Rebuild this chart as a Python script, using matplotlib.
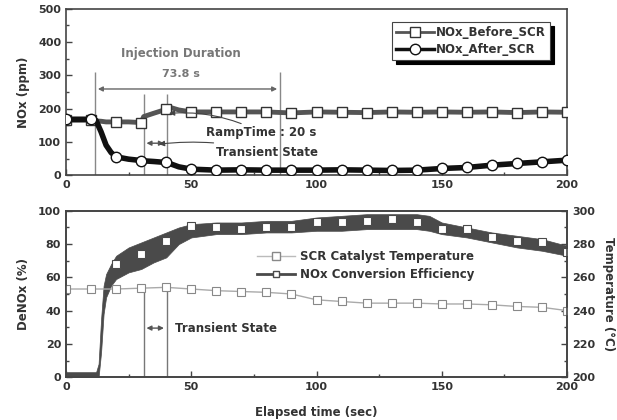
import matplotlib
matplotlib.use("Agg")
import matplotlib.pyplot as plt
from matplotlib.lines import Line2D
from matplotlib.ticker import MultipleLocator

# ---- top panel: NOx before / after SCR (ppm) ----
t_nox = [0, 10, 12, 14, 16, 18, 20, 25, 30, 31, 35, 40, 41, 45, 50, 60, 70, 80, 90, 100,
         110, 120, 130, 140, 150, 160, 170, 180, 190, 200]
nox_before = [165, 165, 163, 162, 160, 160, 160, 160, 158, 176, 186, 198, 205, 196, 190, 190, 190, 190, 187, 190,
              189, 188, 190, 189, 190, 189, 190, 188, 190, 189]
nox_after = [168, 168, 164, 130, 90, 68, 55, 48, 44, 43, 41, 38, 36, 25, 18, 15, 16, 15, 15, 15,
             16, 15, 14, 15, 20, 23, 30, 35, 40, 45]

# ---- bottom panel: DeNOx band (%) and catalyst temperature (degC) ----
t_denox = [0, 12, 13, 14, 15, 16, 18, 20, 25, 30, 35, 40, 45, 50, 60, 70, 80, 90, 100,
           110, 120, 130, 140, 145, 150, 160, 170, 180, 190, 200]
denox_low = [0, 0, 0, 15, 38, 48, 55, 59, 63, 65, 69, 72, 80, 84, 86, 86, 87, 87, 88,
             88, 89, 89, 89, 88, 86, 84, 81, 78, 76, 73]
denox_high = [3, 3, 8, 35, 55, 62, 68, 73, 78, 81, 84, 87, 90, 92, 93, 93, 94, 94, 96,
              97, 98, 98, 98, 97, 93, 90, 87, 85, 83, 79]
t_denox_mark = [20, 30, 40, 50, 60, 70, 80, 90, 100, 110, 120, 130, 140, 150, 160, 170, 180, 190, 200]
denox_mark = [68, 74, 82, 91, 90, 89, 90, 90, 93, 93, 94, 95, 93, 89, 89, 84, 82, 81, 75]

t_temp = [0, 10, 20, 30, 40, 50, 60, 70, 80, 90, 100, 110, 120, 130, 140, 150, 160, 170, 180, 190, 200]
temp = [253, 253, 253, 253.5, 254, 253, 252, 251.5, 251, 250, 246.5, 245.5, 244.5, 244.5, 244.5,
        244, 244, 243.5, 242.5, 242, 240]

# events (s)
t_inj_start = 11.6
t_inj_end = 85.4
t_trans_start = 31
t_trans_end = 40.2

TXT = "#333333"
plt.rcParams["font.family"] = "DejaVu Sans"
plt.rcParams["font.weight"] = "bold"
plt.rcParams["font.size"] = 8
plt.rcParams["text.color"] = TXT
plt.rcParams["axes.labelcolor"] = TXT
plt.rcParams["axes.labelweight"] = "bold"
plt.rcParams["xtick.color"] = TXT
plt.rcParams["ytick.color"] = TXT

fig = plt.figure(figsize=(6.17, 4.2), dpi=100)
ax1 = fig.add_axes([0.107, 0.583, 0.812, 0.396])
ax2 = fig.add_axes([0.107, 0.102, 0.812, 0.396])

marks = [i for i, t in enumerate(t_nox) if t % 10 == 0]

def style_axis(ax):
    for s in ax.spines.values():
        s.set_color("#444444")
        s.set_linewidth(1.2)
    ax.tick_params(which="both", direction="in", width=1, color="#444444")
    ax.tick_params(which="major", length=4)
    ax.tick_params(which="minor", length=2.5)

# top panel
ax1.plot(t_nox, nox_before, color="#555555", lw=3.5, marker="s", ms=6.5, mfc="white",
         mec="#333333", mew=1, markevery=marks, zorder=3)
ax1.plot(t_nox, nox_after, color="#111111", lw=4, marker="o", ms=7.5, mfc="white",
         mec="#111111", mew=1, markevery=marks, zorder=4)

ax1.vlines([t_inj_start, t_inj_end], 0, 310, color="#888888", lw=1, zorder=2)
ax1.vlines([t_trans_start, t_trans_end], 0, 245, color="#888888", lw=1, zorder=2)
ax1.annotate("", xy=(t_inj_start, 259), xytext=(t_inj_end, 259),
             arrowprops=dict(arrowstyle="<|-|>", color="#666666", lw=1, mutation_scale=7))
ax1.text(46, 365, "Injection Duration", ha="center", va="center", color="#777777", fontsize=8.5)
ax1.text(46, 305, "73.8 s", ha="center", va="center", color="#777777", fontsize=8)
ax1.annotate("", xy=(t_trans_start, 96), xytext=(t_trans_end, 96),
             arrowprops=dict(arrowstyle="<|-|>", color="#555555", lw=1, mutation_scale=7))
ax1.annotate("RampTime : 20 s", xy=(40, 185), xytext=(56, 127), va="center", fontsize=8.5,
             arrowprops=dict(arrowstyle="-|>", color="#444444", lw=0.8, mutation_scale=8,
                             connectionstyle="arc3,rad=0.15", shrinkA=0, shrinkB=2))
ax1.annotate("Transient State", xy=(36, 92), xytext=(60, 69), va="center", fontsize=8.5,
             arrowprops=dict(arrowstyle="-|>", color="#444444", lw=0.8, mutation_scale=8,
                             connectionstyle="arc3,rad=0.1", shrinkA=0, shrinkB=2))

ax1.set_xlim(0, 200)
ax1.set_ylim(0, 500)
ax1.xaxis.set_major_locator(MultipleLocator(50))
ax1.xaxis.set_minor_locator(MultipleLocator(25))
ax1.yaxis.set_major_locator(MultipleLocator(100))
ax1.yaxis.set_minor_locator(MultipleLocator(50))
ax1.set_ylabel("NOx (ppm)", fontsize=8.5, labelpad=6)
style_axis(ax1)

h1 = [Line2D([], [], color="#555555", lw=2, marker="s", ms=6.5, mfc="white", mec="#333333"),
      Line2D([], [], color="#111111", lw=2.5, marker="o", ms=7.5, mfc="white", mec="#111111")]
leg1 = ax1.legend(h1, ["NOx_Before_SCR", "NOx_After_SCR"], loc="upper right",
                  bbox_to_anchor=(0.978, 0.955), fontsize=8.5, handlelength=3.2,
                  handletextpad=0.2, borderpad=0.35, labelspacing=0.3, fancybox=False,
                  shadow={"color": "black", "alpha": 1, "ox": 3, "oy": -3})
leg1.get_frame().set_edgecolor("#444444")
leg1.get_frame().set_linewidth(0.8)

# bottom panel
ax2.fill_between(t_denox, denox_low, denox_high, color="#4a4a4a", lw=0.5, zorder=3)
ax2.plot(t_denox_mark, denox_mark, ls="none", marker="s", ms=5.5, mfc="white",
         mec="#4a4a4a", mew=0.8, zorder=4)
ax2.vlines([t_trans_start, t_trans_end], 0, 54, color="#777777", lw=1, zorder=2)
ax2.annotate("", xy=(t_trans_start, 29.5), xytext=(t_trans_end, 29.5),
             arrowprops=dict(arrowstyle="<|-|>", color="#555555", lw=1, mutation_scale=7))
ax2.text(43.5, 29.5, "Transient State", va="center", fontsize=8.5)

ax2.set_xlim(0, 200)
ax2.set_ylim(0, 100)
ax2.xaxis.set_major_locator(MultipleLocator(50))
ax2.xaxis.set_minor_locator(MultipleLocator(25))
ax2.yaxis.set_major_locator(MultipleLocator(20))
ax2.yaxis.set_minor_locator(MultipleLocator(10))
ax2.set_ylabel("DeNOx (%)", fontsize=8.5, labelpad=6)
ax2.set_xlabel("Elapsed time (sec)", fontsize=8.5, labelpad=10)
style_axis(ax2)

ax2b = ax2.twinx()
ax2b.plot(t_temp, temp, color="#aaaaaa", lw=1, marker="s", ms=5.5, mfc="white",
          mec="#888888", mew=0.8, zorder=2)
ax2b.set_ylim(200, 300)
ax2b.yaxis.set_major_locator(MultipleLocator(20))
ax2b.yaxis.set_minor_locator(MultipleLocator(10))
ax2b.set_ylabel("Temperature (\u00b0C)", fontsize=8.5, rotation=-90, labelpad=14)
style_axis(ax2b)

h2 = [Line2D([], [], color="#bbbbbb", lw=1, marker="s", ms=5.5, mfc="white", mec="#888888"),
      Line2D([], [], color="#4a4a4a", lw=2, marker="s", ms=4, mfc="white", mec="#4a4a4a")]
ax2b.legend(h2, ["SCR Catalyst Temperature", "NOx Conversion Efficiency"], loc="upper left",
            bbox_to_anchor=(0.36, 0.83), fontsize=8.5, frameon=False, handlelength=3.2,
            handletextpad=0.4, labelspacing=0.45)

fig.savefig("out.png", dpi=100)
